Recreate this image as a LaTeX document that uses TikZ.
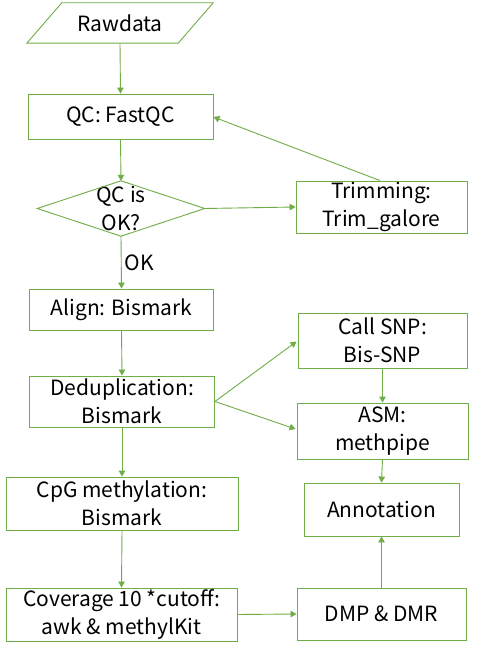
\documentclass[tikz,border=0pt]{standalone}
\usepackage{fontspec}
\setmainfont{Noto Sans CJK SC}
\usetikzlibrary{arrows.meta,calc}
\definecolor{og}{RGB}{112,173,71}
\begin{document}
\begin{tikzpicture}[x=1pt,y=-1pt,
  box/.style={draw=og,line width=0.9pt,rectangle,inner sep=0pt,align=center,
    font=\fontsize{21}{28}\selectfont,text=black},
  ghost/.style={rectangle,inner sep=0pt,align=center,
    font=\fontsize{21}{28}\selectfont,text=black},
  arr/.style={draw=og,line width=0.9pt,-{Triangle[width=6.5pt,length=6pt]}}]
\useasboundingbox[fill=white] (0,0) rectangle (489,658);
% Rawdata parallelogram
\node[ghost,minimum width=151pt,minimum height=40pt] (raw) at (120,23) {Rawdata};
\draw[og,line width=0.9pt] ($(raw.north west)+(17.5,0)$) -- ($(raw.north east)+(17.5,0)$)
  -- ($(raw.south east)+(-17.5,0)$) -- ($(raw.south west)+(-17.5,0)$) -- cycle;
\node[box,minimum width=185pt,minimum height=45pt] (qc) at (120.5,116.5) {QC: FastQC};
% diamond
\node[ghost,minimum width=167pt,minimum height=55pt] (dia) at (121,208.5) {QC is\\OK?};
\draw[og,line width=0.9pt] (dia.north) -- (dia.east) -- (dia.south) -- (dia.west) -- cycle;
\node[box,minimum width=171pt,minimum height=52pt] (trim) at (381.5,207) {Trimming:\\Trim\_galore};
\node[box,minimum width=184pt,minimum height=41pt] (align) at (121.5,309.5) {Align: Bismark};
\node[box,minimum width=185pt,minimum height=51pt] (dedup) at (122,401.5) {Deduplication:\\Bismark};
\node[box,minimum width=169pt,minimum height=55pt] (snp) at (382.5,340.5) {Call SNP:\\Bis-SNP};
\node[box,minimum width=171pt,minimum height=56pt] (asm) at (382.5,431) {ASM:\\methpipe};
\node[box,minimum width=155pt,minimum height=53pt] (ann) at (381.5,509.5) {Annotation};
\node[box,minimum width=232pt,minimum height=53pt] (cpg) at (122,503.5) {CpG methylation:\\Bismark};
\node[box,minimum width=231pt,minimum height=53pt] (cov) at (121.5,614.5) {Coverage 10 *cutoff:\\awk \& methylKit};
\node[box,minimum width=169pt,minimum height=52pt] (dmp) at (381.5,614) {DMP \& DMR};
% connectors
\draw[arr] (raw.south) -- (qc.north);
\draw[arr] (qc.south) -- (dia.north);
\draw[arr] (dia.east) -- (trim.west);
\draw[arr] ($(trim.north)+(-1.5,0)$) -- ($(qc.east)+(0,0.5)$);
\draw[arr] (dia.south) -- node[right,font=\fontsize{21}{24}\selectfont,text=black,inner sep=3pt] {OK} (align.north);
\draw[arr] (align.south) -- (dedup.north);
\draw[arr] (dedup.east) -- ($(snp.west)+(-1,1)$);
\draw[arr] (dedup.east) -- ($(asm.west)+(-1,-2)$);
\draw[arr] (snp.south) -- (asm.north);
\draw[arr] (asm.south) -- (ann.north);
\draw[arr] (dedup.south) -- (cpg.north);
\draw[arr] (cpg.south) -- (cov.north);
\draw[arr] (cov.east) -- (dmp.west);
\draw[arr] (dmp.north) -- (ann.south);
\end{tikzpicture}
\end{document}
